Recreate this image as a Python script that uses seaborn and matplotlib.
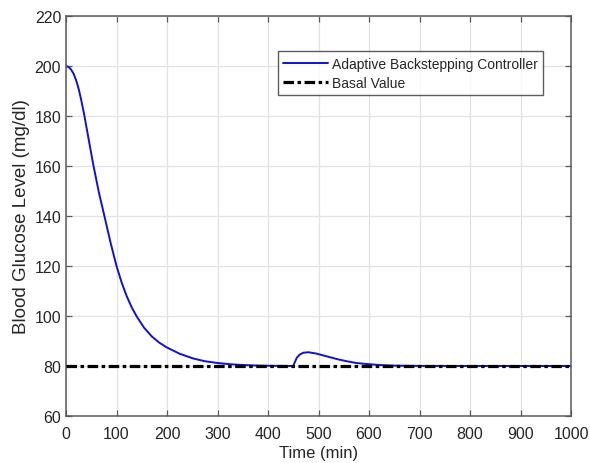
import numpy as np
import pandas as pd
import matplotlib
matplotlib.use("Agg")
import matplotlib.pyplot as plt
import seaborn as sns

# values
time_min = [0, 5, 10, 15, 20, 25, 30, 36, 45, 54, 65, 76, 88, 100, 110, 120,
            130, 140, 155, 170, 185, 199, 225, 252, 275, 300, 325, 350, 375,
            400, 450, 453, 457, 463, 470, 480, 495, 510, 523, 540, 556, 575,
            595, 620, 650, 700, 800, 900, 1000]
glucose = [200, 199.6, 198.6, 196.9, 194.3, 190.9, 186.5, 180.5, 170.5, 160.5,
           149.5, 140, 129.5, 120, 113.5, 108, 103.5, 99.8, 95.2, 91.8, 89.3,
           87.5, 84.9, 83.0, 81.9, 81.2, 80.7, 80.4, 80.2, 80.1, 80.0, 81.5,
           83.3, 84.6, 85.3, 85.5, 85.0, 84.2, 83.5, 82.6, 81.9, 81.2, 80.8,
           80.4, 80.15, 80.03, 80.0, 80.0, 80.0]
basal_time = [0, 1000]
basal_value = [80, 80]

sns.set_style("white")
plt.rcParams["font.family"] = ["Liberation Sans", "DejaVu Sans"]

fig = plt.figure(figsize=(5.9, 4.64), dpi=100)
ax = fig.add_axes([0.1119, 0.1013, 0.8559, 0.8621])

df = pd.DataFrame({"t": time_min, "g": glucose})
sns.lineplot(data=df, x="t", y="g", ax=ax, color="#1010d8", lw=1.4,
             label="Adaptive Backstepping Controller", zorder=2)
sns.lineplot(x=basal_time, y=basal_value, ax=ax, color="black", lw=2.3,
             label="Basal Value", zorder=3)
ax.lines[1].set_linestyle((0, (3.3, 1.1, 1.1, 1.1)))

ax.set_xlim(0, 1000)
ax.set_ylim(60, 220)
ax.set_xticks(np.arange(0, 1001, 100))
ax.set_yticks(np.arange(60, 221, 20))
ax.grid(True, color="#e3e3e3", lw=0.9)
ax.set_axisbelow(True)

for s in ax.spines.values():
    s.set_color("#5a5a5a")
    s.set_linewidth(1.1)
ax.tick_params(direction="in", length=4, width=0.9, colors="#5a5a5a",
               labelcolor="#262626", labelsize=11.5, top=True, right=True,
               bottom=True, left=True)
ax.tick_params(axis="x", pad=7)

ax.set_xlabel("Time (min)", fontsize=12, color="#262626", labelpad=3)
ax.set_ylabel("Blood Glucose Level (mg/dl)", fontsize=13.5, color="#262626",
              labelpad=3)

leg = ax.legend(loc="upper right", bbox_to_anchor=(0.945, 0.912), fontsize=10,
                frameon=True, fancybox=False, handlelength=3.2,
                borderpad=0.4, labelspacing=0.35, handletextpad=0.3,
                borderaxespad=0)
leg.get_frame().set_edgecolor("#333333")
leg.get_frame().set_linewidth(1.0)

fig.savefig("out.png", dpi=100)
